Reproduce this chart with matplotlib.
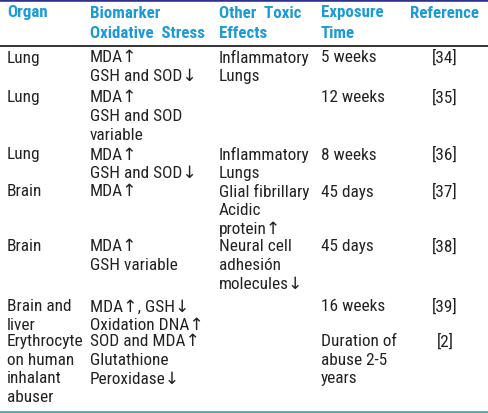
import matplotlib.pyplot as plt
from matplotlib.lines import Line2D

# ============================================================
# Table data
# ============================================================

headers = ["Organ", "Biomarker\nOxidative  Stress", "Other  Toxic\nEffects",
           "Exposure\nTime", "Reference"]

organs = ["Lung", "Lung", "Lung", "Brain", "Brain", "Brain and\nliver",
          "Erythrocyte\non human\ninhalant\nabuser"]

biomarkers = ["MDA↑\nGSH and SOD↓", "MDA↑\nGSH and SOD\nvariable",
              "MDA↑\nGSH and SOD↓", "MDA↑", "MDA↑\nGSH variable",
              "MDA↑, GSH↓\nOxidation DNA↑",
              "SOD and MDA↑\nGlutathione\nPeroxidase↓"]

other_effects = ["Inflammatory\nLungs", "", "Inflammatory\nLungs",
                 "Glial fibrillary\nAcidic\nprotein↑",
                 "Neural cell\nadhesión\nmolecules↓", "", ""]

exposure = ["5 weeks", "12 weeks", "8 weeks", "45 days", "45 days",
            "16 weeks", "Duration of\nabuse 2-5\nyears"]

references = ["[34]", "[35]", "[36]", "[37]", "[38]", "[39]", "[2]"]

# ============================================================
# Layout (pixels)
# ============================================================

W, H = 488, 414
col_x = [7, 90, 219, 321, 445]
col_ha = ["left", "left", "left", "left", "center"]
row_y = [58, 98, 155, 192, 247, 307, 342]
header_y = 13
line_h = 18.5

fonts = ["Roboto Condensed", "Noto Sans", "DejaVu Sans"]
header_color = "#1b9ad6"

fig = plt.figure(figsize=(W / 100, H / 100), dpi=100)


def put(x, y, s, **kw):
    fig.text(x / W, 1 - y / H, s, va="center", family=fonts, **kw)


def put_block(x, y, s, ha, **kw):
    for i, line in enumerate(s.split("\n")):
        put(x, y + i * line_h, line, ha=ha, **kw)


# header
for j, h in enumerate(headers):
    hx = 410 if j == 4 else col_x[j]
    for i, line in enumerate(h.split("\n")):
        put(hx, header_y + i * 20, line, ha="left", fontsize=12.2,
            fontweight="bold", color=header_color)

# body
columns = [organs, biomarkers, other_effects, exposure, references]
for j, col in enumerate(columns):
    for i, cell in enumerate(col):
        put_block(col_x[j], row_y[i], cell, col_ha[j],
                  fontsize=12.4, color="#222222")

# rules
fig.add_artist(Line2D([0, 1], [1 - 1.2 / H, 1 - 1.2 / H],
                      color="#2e3192", lw=2.6))
fig.add_artist(Line2D([0, 1], [1 - 47 / H, 1 - 47 / H],
                      color="#111111", lw=1.2))
fig.add_artist(Line2D([0, 1], [1 - 412.5 / H, 1 - 412.5 / H],
                      color="#4aa9b3", lw=2))

plt.savefig("out.png", dpi=100)

plt.close()
